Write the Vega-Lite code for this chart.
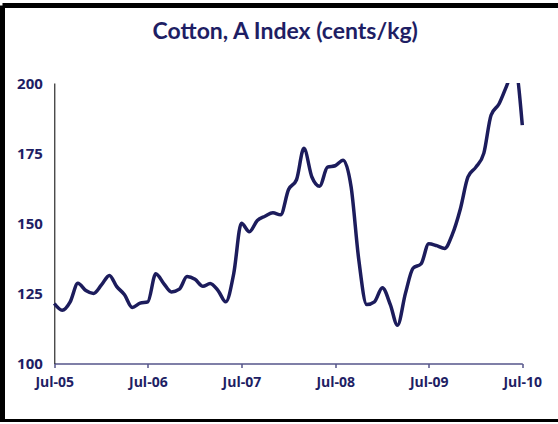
{
  "$schema": "https://vega.github.io/schema/vega-lite/v6.json",
  "width": 555.5,
  "height": 416,
  "autosize": {"type": "none"},
  "padding": {"left": 2.5, "top": 5.5, "right": 0, "bottom": 0},
  "background": "white",
  "title": {
    "text": "Cotton, A Index (cents/kg)",
    "anchor": "middle",
    "offset": -38,
    "dx": 5,
    "font": "Lato",
    "fontSize": 23,
    "fontWeight": "bold",
    "color": "#1e1e64"
  },
  "data": {
    "values": [
      {"date": "2005/07/01", "value": 121.4},
      {"date": "2005/08/01", "value": 119},
      {"date": "2005/09/01", "value": 122},
      {"date": "2005/10/01", "value": 128.6},
      {"date": "2005/11/01", "value": 126},
      {"date": "2005/12/01", "value": 125},
      {"date": "2006/01/01", "value": 128},
      {"date": "2006/02/01", "value": 131.4},
      {"date": "2006/03/01", "value": 127.5},
      {"date": "2006/04/01", "value": 124.5},
      {"date": "2006/05/01", "value": 120},
      {"date": "2006/06/01", "value": 121.5},
      {"date": "2006/07/01", "value": 122},
      {"date": "2006/08/01", "value": 132},
      {"date": "2006/09/01", "value": 128.5},
      {"date": "2006/10/01", "value": 125.5},
      {"date": "2006/11/01", "value": 126.5},
      {"date": "2006/12/01", "value": 131},
      {"date": "2007/01/01", "value": 130},
      {"date": "2007/02/01", "value": 127.5},
      {"date": "2007/03/01", "value": 128.5},
      {"date": "2007/04/01", "value": 126},
      {"date": "2007/05/01", "value": 122},
      {"date": "2007/06/01", "value": 132},
      {"date": "2007/07/01", "value": 150},
      {"date": "2007/08/01", "value": 147},
      {"date": "2007/09/01", "value": 151},
      {"date": "2007/10/01", "value": 152.5},
      {"date": "2007/11/01", "value": 153.7},
      {"date": "2007/12/01", "value": 153},
      {"date": "2008/01/01", "value": 162},
      {"date": "2008/02/01", "value": 165.5},
      {"date": "2008/03/01", "value": 176.7},
      {"date": "2008/04/01", "value": 166.5},
      {"date": "2008/05/01", "value": 163.2},
      {"date": "2008/06/01", "value": 170},
      {"date": "2008/07/01", "value": 170.5},
      {"date": "2008/08/01", "value": 172.5},
      {"date": "2008/09/01", "value": 163},
      {"date": "2008/10/01", "value": 137},
      {"date": "2008/11/01", "value": 121},
      {"date": "2008/12/01", "value": 122},
      {"date": "2009/01/01", "value": 127},
      {"date": "2009/02/01", "value": 121},
      {"date": "2009/03/01", "value": 113.6},
      {"date": "2009/04/01", "value": 125},
      {"date": "2009/05/01", "value": 134},
      {"date": "2009/06/01", "value": 135.5},
      {"date": "2009/07/01", "value": 142.7},
      {"date": "2009/08/01", "value": 142},
      {"date": "2009/09/01", "value": 141},
      {"date": "2009/10/01", "value": 146},
      {"date": "2009/11/01", "value": 155},
      {"date": "2009/12/01", "value": 166.5},
      {"date": "2010/01/01", "value": 170},
      {"date": "2010/02/01", "value": 175},
      {"date": "2010/03/01", "value": 188.5},
      {"date": "2010/04/01", "value": 192.5},
      {"date": "2010/05/01", "value": 199},
      {"date": "2010/06/01", "value": 206},
      {"date": "2010/07/01", "value": 185}
    ]
  },
  "encoding": {
    "x": {
      "field": "date",
      "type": "temporal",
      "title": null,
      "scale": {
        "domain": [{"year": 2005, "month": 7, "date": 1}, {"year": 2010, "month": 7, "date": 1}],
        "range": [51.8, 519.8]
      },
      "axis": {
        "orient": "bottom",
        "offset": -58,
        "values": [
          {"year": 2005, "month": 7, "date": 1},
          {"year": 2006, "month": 7, "date": 1},
          {"year": 2007, "month": 7, "date": 1},
          {"year": 2008, "month": 7, "date": 1},
          {"year": 2009, "month": 7, "date": 1},
          {"year": 2010, "month": 7, "date": 1}
        ],
        "format": "%b-%y",
        "grid": false,
        "domainColor": "#55558a",
        "domainWidth": 1.5,
        "tickColor": "#55558a",
        "tickWidth": 1.5,
        "tickSize": 4,
        "labelPadding": 8,
        "labelFont": "Open Sans",
        "labelFontSize": 14,
        "labelFontWeight": "bold",
        "labelColor": "#1e1e64",
        "labelFlush": false,
        "labelOverlap": false
      }
    },
    "y": {
      "field": "value",
      "type": "quantitative",
      "title": null,
      "scale": {"domain": [100, 200], "range": [358, 77.5], "nice": false, "zero": false},
      "axis": {
        "orient": "left",
        "offset": -51.8,
        "values": [100, 125, 150, 175, 200],
        "grid": false,
        "ticks": false,
        "domainColor": "black",
        "domainWidth": 1,
        "labelPadding": 12,
        "labelFont": "Open Sans",
        "labelFontSize": 15,
        "labelFontWeight": "bold",
        "labelColor": "#1e1e64"
      }
    }
  },
  "layer": [
    {
      "mark": {"type": "line", "color": "#1c1c5c", "strokeWidth": 3.5, "interpolate": "monotone"}
    },
    {
      "mark": {"type": "rect", "fill": "white"},
      "encoding": {
        "x": {"datum": {"year": 2010, "month": 1, "date": 1}, "type": "temporal"},
        "x2": {"datum": {"year": 2010, "month": 7, "date": 1}},
        "y": {"datum": 200, "type": "quantitative"},
        "y2": {"datum": 214}
      }
    }
  ],
  "config": {
    "view": {"stroke": "black", "strokeWidth": 5, "strokeDash": [555.5, 416, 971.5, 0]}
  }
}
